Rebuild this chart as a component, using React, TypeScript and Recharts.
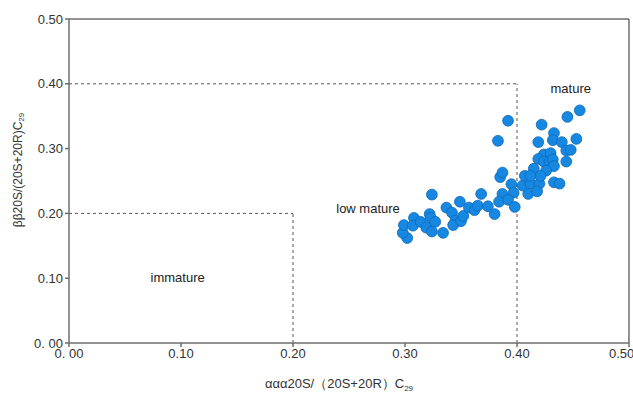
import { ReferenceDot, ReferenceLine, Scatter, ScatterChart, XAxis, YAxis } from "recharts";

// values
const xValues = [
  0.324, 0.302, 0.298, 0.299, 0.308, 0.307, 0.314, 0.319, 0.322, 0.323, 0.327, 0.324, 0.334,
  0.337, 0.342, 0.345, 0.343, 0.35, 0.352, 0.349, 0.357, 0.362, 0.365, 0.368, 0.374, 0.38,
  0.385, 0.387, 0.395, 0.405, 0.412, 0.42, 0.433, 0.438, 0.387, 0.397, 0.41, 0.418, 0.384,
  0.392, 0.398, 0.392, 0.383, 0.422, 0.445, 0.456, 0.433, 0.419, 0.432, 0.44, 0.453, 0.444,
  0.448, 0.424, 0.43, 0.419, 0.424, 0.429, 0.432, 0.444, 0.433, 0.415, 0.426, 0.421, 0.407,
  0.412,
];
const yValues = [
  0.229, 0.162, 0.17, 0.182, 0.193, 0.181, 0.187, 0.178, 0.199, 0.193, 0.187, 0.172, 0.17,
  0.209, 0.201, 0.189, 0.182, 0.188, 0.196, 0.218, 0.209, 0.205, 0.212, 0.23, 0.211, 0.199,
  0.256, 0.263, 0.245, 0.243, 0.246, 0.246, 0.248, 0.246, 0.23, 0.232, 0.23, 0.234, 0.218,
  0.221, 0.21, 0.343, 0.312, 0.337, 0.349, 0.359, 0.324, 0.31, 0.313, 0.31, 0.315, 0.297,
  0.298, 0.291, 0.293, 0.284, 0.28, 0.28, 0.283, 0.28, 0.273, 0.269, 0.266, 0.258, 0.258,
  0.258,
];
const ticks = [0, 0.1, 0.2, 0.3, 0.4, 0.5];
const tickLabels = ["0. 00", "0.10", "0.20", "0.30", "0.40", "0.50"];

const regions = [
  { name: "immature", x: 0.097, y: 0.102 },
  { name: "low mature", x: 0.267, y: 0.208 },
  { name: "mature", x: 0.448, y: 0.393 },
];

const data = xValues.map((x, i) => ({ x, y: yValues[i] }));

const font = "'Liberation Sans', Arial, sans-serif";
const axisColor = "#6e6e6e";
const textColor = "#333";
const dash = "#555";

const fmt = (v: number) => tickLabels[ticks.findIndex((t) => Math.abs(t - v) < 1e-6)] ?? String(v);

const Dot = (p: any) => <circle cx={p.cx} cy={p.cy} r={5.4} fill="#1788e2" stroke="#0b68b8" strokeWidth={0.8} />;

export default function App() {
  return (
    <div style={{ position: "absolute", left: 0, top: 0, fontFamily: font }}>
      <ScatterChart width={633} height={394} margin={{ top: 19, right: 4, bottom: 0, left: 0 }}>
        <XAxis
          type="number"
          dataKey="x"
          domain={[0, 0.5]}
          ticks={ticks}
          tickFormatter={fmt}
          height={51}
          stroke={axisColor}
          strokeWidth={1.5}
          tickSize={4}
          tick={{ fill: textColor, fontSize: 13, fontFamily: font }}
          label={{
            content: () => (
              <text x={339} y={388} textAnchor="middle" fill={textColor} fontSize={13} fontFamily={font}>
                ααα20S/（20S+20R）C<tspan fontSize={8} dy={3}>29</tspan>
              </text>
            ),
          }}
        />
        <YAxis
          type="number"
          dataKey="y"
          domain={[0, 0.5]}
          ticks={ticks}
          tickFormatter={fmt}
          width={69}
          stroke={axisColor}
          strokeWidth={1.5}
          tickSize={4}
          tick={{ fill: textColor, fontSize: 13, fontFamily: font }}
          label={{
            content: () => (
              <text
                x={18}
                y={170}
                transform="rotate(-90, 18, 170)"
                textAnchor="middle"
                dominantBaseline="central"
                fill={textColor}
                fontSize={12}
                fontFamily={font}
              >
                ββ20S/(20S+20R)C<tspan fontSize={8} dy={3}>29</tspan>
              </text>
            ),
          }}
        />
        <ReferenceLine y={0.5} stroke={axisColor} strokeWidth={1.5} />
        <ReferenceLine x={0.5} stroke={axisColor} strokeWidth={1.5} />
        <ReferenceLine segment={[{ x: 0, y: 0.4 }, { x: 0.4, y: 0.4 }]} stroke={dash} strokeDasharray="3 3" />
        <ReferenceLine segment={[{ x: 0.4, y: 0 }, { x: 0.4, y: 0.4 }]} stroke={dash} strokeDasharray="3 3" />
        <ReferenceLine segment={[{ x: 0, y: 0.2 }, { x: 0.2, y: 0.2 }]} stroke={dash} strokeDasharray="3 3" />
        <ReferenceLine segment={[{ x: 0.2, y: 0 }, { x: 0.2, y: 0.2 }]} stroke={dash} strokeDasharray="3 3" />
        {regions.map((r) => (
          <ReferenceDot
            key={r.name}
            x={r.x}
            y={r.y}
            r={0}
            fill="none"
            stroke="none"
            label={{ value: r.name, position: "center", fill: "#222", fontSize: 13, fontFamily: font }}
          />
        ))}
        <Scatter data={data} shape={Dot} isAnimationActive={false} />
      </ScatterChart>
    </div>
  );
}
